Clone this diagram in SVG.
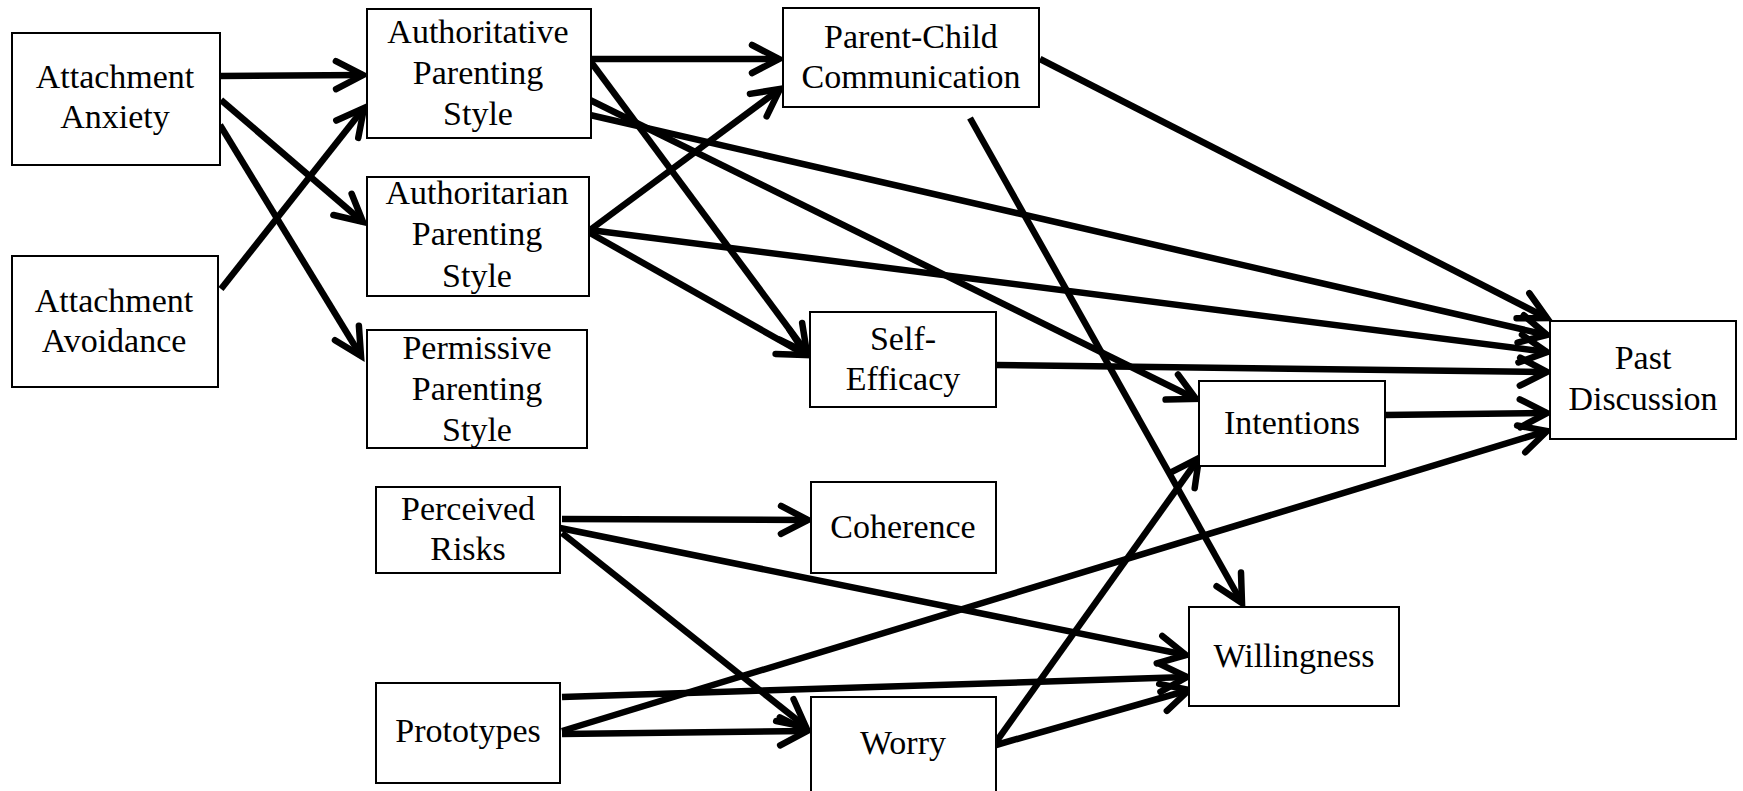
<svg xmlns="http://www.w3.org/2000/svg" width="1743" height="791" viewBox="0 0 1743 791">
  <style>
    .box { fill: #ffffff; stroke: #000000; stroke-width: 2; }
    .lbl { font-family: "Liberation Serif", "Times New Roman", serif; font-size: 34px; fill: #000000; text-anchor: middle; }
    .edge { fill: none; stroke: #000000; stroke-width: 6.5; marker-end: url(#arrow); }
  </style>
  <defs>
    <marker id="arrow" markerUnits="userSpaceOnUse" orient="auto" viewBox="-40 -20 50 40" refX="0" refY="0" markerWidth="50" markerHeight="40" overflow="visible">
      <path d="M-27,-14 L0,0 L-27,14" fill="none" stroke="#000000" stroke-width="6.5" stroke-linecap="round" stroke-linejoin="miter"/>
    </marker>
  </defs>
  <rect width="1743" height="791" fill="#ffffff"/>

  <!-- connectors -->
  <g id="connectors">
    <line class="edge" x1="220" y1="76" x2="363" y2="75"/>
    <line class="edge" x1="221" y1="100" x2="363" y2="222"/>
    <line class="edge" x1="220" y1="125" x2="361" y2="356"/>
    <line class="edge" x1="221" y1="289" x2="364" y2="108"/>
    <line class="edge" x1="590" y1="59" x2="779" y2="59"/>
    <line class="edge" x1="591" y1="62" x2="807" y2="353"/>
    <line class="edge" x1="590" y1="100" x2="1196" y2="399"/>
    <line class="edge" x1="590" y1="115" x2="1547" y2="335"/>
    <line class="edge" x1="590" y1="230" x2="780" y2="89"/>
    <line class="edge" x1="590" y1="230" x2="1547" y2="352"/>
    <line class="edge" x1="590" y1="233" x2="806" y2="355"/>
    <line class="edge" x1="996" y1="365" x2="1547" y2="372"/>
    <line class="edge" x1="1040" y1="59" x2="1547" y2="318"/>
    <line class="edge" x1="970" y1="118" x2="1242" y2="603"/>
    <line class="edge" x1="1385" y1="415" x2="1547" y2="413"/>
    <line class="edge" x1="562" y1="519" x2="808" y2="520"/>
    <line class="edge" x1="560" y1="528" x2="1186" y2="655"/>
    <line class="edge" x1="562" y1="533" x2="806" y2="727"/>
    <line class="edge" x1="562" y1="697" x2="1187" y2="677"/>
    <line class="edge" x1="562" y1="731" x2="1547" y2="431"/>
    <line class="edge" x1="562" y1="734" x2="807" y2="731"/>
    <line class="edge" x1="996" y1="742" x2="1199" y2="458"/>
    <line class="edge" x1="996" y1="745" x2="1189" y2="690"/>
  </g>

  <!-- nodes -->
  <g id="attachment-anxiety">
    <rect class="box" x="12" y="33" width="208" height="132"/>
    <text class="lbl" x="115" y="88">Attachment</text>
    <text class="lbl" x="115" y="128">Anxiety</text>
  </g>
  <g id="attachment-avoidance">
    <rect class="box" x="12" y="256" width="206" height="131"/>
    <text class="lbl" x="114" y="312">Attachment</text>
    <text class="lbl" x="114" y="352">Avoidance</text>
  </g>
  <g id="authoritative">
    <rect class="box" x="367" y="9" width="224" height="129"/>
    <text class="lbl" x="478" y="43">Authoritative</text>
    <text class="lbl" x="478" y="84">Parenting</text>
    <text class="lbl" x="478" y="125">Style</text>
  </g>
  <g id="authoritarian">
    <rect class="box" x="367" y="177" width="222" height="119"/>
    <text class="lbl" x="477" y="204">Authoritarian</text>
    <text class="lbl" x="477" y="245">Parenting</text>
    <text class="lbl" x="477" y="287">Style</text>
  </g>
  <g id="permissive">
    <rect class="box" x="367" y="330" width="220" height="118"/>
    <text class="lbl" x="477" y="359">Permissive</text>
    <text class="lbl" x="477" y="400">Parenting</text>
    <text class="lbl" x="477" y="441">Style</text>
  </g>
  <g id="parent-child-communication">
    <rect class="box" x="783" y="8" width="256" height="99"/>
    <text class="lbl" x="911" y="48">Parent-Child</text>
    <text class="lbl" x="911" y="88">Communication</text>
  </g>
  <g id="self-efficacy">
    <rect class="box" x="810" y="312" width="186" height="95"/>
    <text class="lbl" x="903" y="350">Self-</text>
    <text class="lbl" x="903" y="390">Efficacy</text>
  </g>
  <g id="intentions">
    <rect class="box" x="1199" y="381" width="186" height="85"/>
    <text class="lbl" x="1292" y="434">Intentions</text>
  </g>
  <g id="past-discussion">
    <rect class="box" x="1550" y="321" width="186" height="118"/>
    <text class="lbl" x="1643" y="369">Past</text>
    <text class="lbl" x="1643" y="410">Discussion</text>
  </g>
  <g id="perceived-risks">
    <rect class="box" x="376" y="487" width="184" height="86"/>
    <text class="lbl" x="468" y="520">Perceived</text>
    <text class="lbl" x="468" y="560">Risks</text>
  </g>
  <g id="coherence">
    <rect class="box" x="811" y="482" width="185" height="91"/>
    <text class="lbl" x="903" y="538">Coherence</text>
  </g>
  <g id="prototypes">
    <rect class="box" x="376" y="683" width="184" height="100"/>
    <text class="lbl" x="468" y="742">Prototypes</text>
  </g>
  <g id="worry">
    <rect class="box" x="811" y="697" width="185" height="110"/>
    <text class="lbl" x="903" y="754">Worry</text>
  </g>
  <g id="willingness">
    <rect class="box" x="1189" y="607" width="210" height="99"/>
    <text class="lbl" x="1294" y="667">Willingness</text>
  </g>
</svg>
